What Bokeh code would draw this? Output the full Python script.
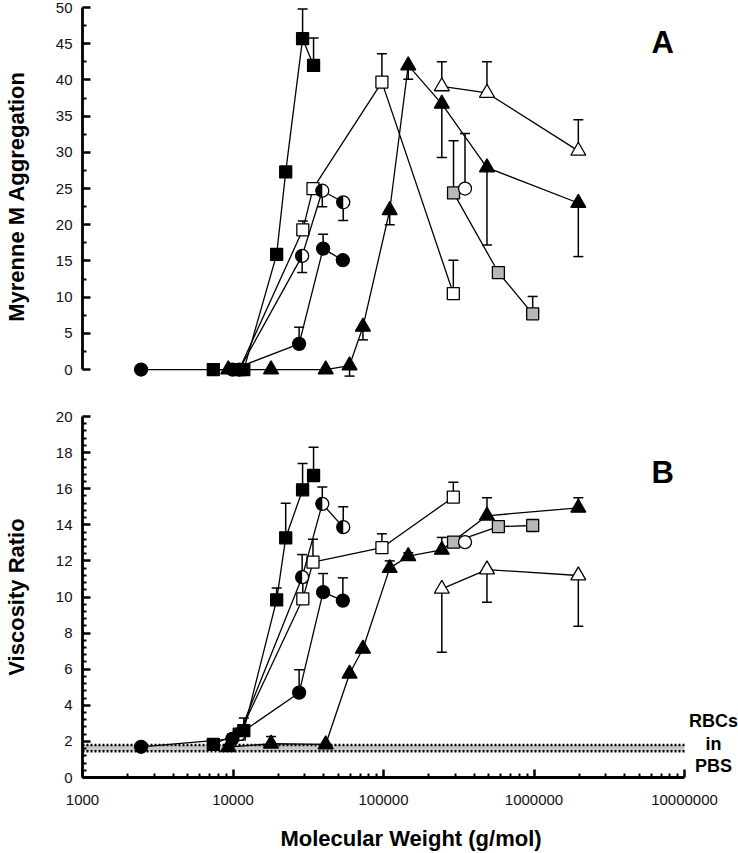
import math
from bokeh.plotting import figure
from bokeh.layouts import column
from bokeh.models import Range1d, FixedTicker, NumeralTickFormatter, Label
from bokeh.embed import file_html
from bokeh.resources import INLINE

nan = float("nan")

# ---------------- data ----------------
mw_decades = [1000, 10000, 100000, 1000000, 10000000]
agg_ticks = [0, 5, 10, 15, 20, 25, 30, 35, 40, 45, 50]
visc_ticks = [0, 2, 4, 6, 8, 10, 12, 14, 16, 18, 20]

# filled squares
fsq_x = [7400, 11800, 19500, 22400, 29000, 34300]
fsq_A = [0, 0, 15.9, 27.3, 45.7, 42.0]
fsq_A_err = [nan, nan, nan, nan, 49.8, 45.8]
fsq_B = [1.83, 2.6, 9.84, 13.28, 15.94, 16.73]
fsq_B_err = [nan, 3.3, 10.5, 15.2, 17.4, 18.3]

# filled circles
fci_x = [2450, 9900, 27500, 39700, 53700]
fci_A = [0, 0, 3.55, 16.7, 15.1]
fci_A_err = [nan, nan, 5.85, 18.7, nan]
fci_B = [1.7, 2.14, 4.7, 10.27, 9.8]
fci_B_err = [nan, 2.42, 5.97, 11.3, 11.06]

# half-filled circles
hci_x = [11000, 28800, 39200, 54000]
hci_A = [0, 15.7, 24.7, 23.1]
hci_A_err = [nan, 13.4, 22.5, 20.6]
hci_B = [2.4, 11.1, 15.16, 13.87]
hci_B_err = [nan, 12.35, 16.1, 15.0]

# open squares
osq_x = [11000, 29100, 34000, 97600, 291000]
osq_A = [0, 19.3, 25.0, 39.7, 10.5]
osq_A_err = [nan, 20.5, 25.7, 43.6, 15.1]
osq_B = [2.4, 9.9, 11.93, 12.73, 15.53]
osq_B_err = [nan, 10.8, 13.2, 13.5, 16.36]

# filled triangles
ftr_x = [9300, 17900, 41300, 59500, 73000, 110000, 146000, 244000, 487000, 1970000]
ftr_A = [0, 0, 0, 0.55, 5.9, 22.0, 42.0, 36.7, 27.9, 23.0]
ftr_A_err = [nan, nan, nan, -0.9, 4.1, 20.0, 40.1, 29.3, 17.2, 15.6]
ftr_B = [1.68, 1.87, 1.83, 5.75, 7.13, 11.6, 12.26, 12.61, 14.5, 14.94]
ftr_B_err = [nan, 2.27, nan, nan, nan, 12.0, 12.45, 13.3, 15.5, 15.5]

# open triangles
otr_x = [244000, 487000, 1970000]
otr_A = [39.1, 38.2, 30.2]
otr_A_err = [42.5, 42.5, 34.5]
otr_B = [10.45, 11.52, 11.19]
otr_B_err = [6.94, 9.71, 8.38]

# grey squares
gsq_x = [292000, 580000, 980000]
gsq_A = [24.4, 13.4, 7.7]
gsq_A_err = [31.6, nan, 10.1]
gsq_B = [13.04, 13.9, 13.96]
gsq_B_err = [13.3, nan, nan]

# single open circle
oci_x = [348000]
oci_A = [25.0]
oci_A_err = [32.6]
oci_B = [13.04]
oci_B_err = [nan]

# RBCs in PBS band
rbc_lo = 1.45
rbc_hi = 1.8

# ---------------- styling helpers ----------------
FONT = "Liberation Sans"
LW = 1.3
TITLE_SIZE = "22px"
TICK_SIZE = "15px"


def style_yaxis(ax, ticks, minors, label):
    ax.ticker = FixedTicker(ticks=ticks, minor_ticks=minors)
    ax.bounds = (ticks[0], ticks[-1])
    ax.axis_label = label
    ax.axis_label_text_font = FONT
    ax.axis_label_text_font_style = "bold"
    ax.axis_label_text_font_size = TITLE_SIZE
    ax.axis_label_text_color = "black"
    ax.axis_label_standoff = 24
    ax.major_label_text_font = FONT
    ax.major_label_text_font_size = TICK_SIZE
    ax.major_label_text_color = "#111111"
    ax.major_label_standoff = 10
    ax.axis_line_width = 2.8
    ax.axis_line_color = "black"
    ax.major_tick_in = 8
    ax.major_tick_out = 0
    ax.minor_tick_in = 4
    ax.minor_tick_out = 0
    ax.major_tick_line_width = 2.5
    ax.minor_tick_line_width = 2
    ax.major_tick_line_color = "black"
    ax.minor_tick_line_color = "black"


def series(p, x, y, err, marker, fill, size):
    ex, ey0, ey1 = [], [], []
    for xi, yi, ei in zip(x, y, err):
        if not math.isnan(ei):
            ex.append(xi)
            ey0.append(yi)
            ey1.append(ei)
    if ex:
        p.segment(x0=ex, y0=ey0, x1=ex, y1=ey1, line_color="black", line_width=1.5)
        p.scatter(ex, ey1, marker="dash", size=10, line_color="black", line_width=1.5)
    p.line(x, y, line_color="black", line_width=LW)
    if marker == "half":
        p.scatter(x, y, marker="circle", size=size, fill_color="white", line_color=None)
        p.wedge(x, y, radius=size / 2.0, radius_units="screen",
                start_angle=math.pi / 2, end_angle=3 * math.pi / 2,
                direction="anticlock", fill_color="black", line_color=None)
        p.scatter(x, y, marker="circle", size=size, fill_color=None,
                  line_color="black", line_width=LW)
    else:
        p.scatter(x, y, marker=marker, size=size, fill_color=fill,
                  line_color="black", line_width=LW)


def draw_all(p, which):
    d = {
        "A": [(osq_x, osq_A, osq_A_err), (hci_x, hci_A, hci_A_err), (fci_x, fci_A, fci_A_err),
              (fsq_x, fsq_A, fsq_A_err), (ftr_x, ftr_A, ftr_A_err), (otr_x, otr_A, otr_A_err),
              (gsq_x, gsq_A, gsq_A_err), (oci_x, oci_A, oci_A_err)],
        "B": [(osq_x, osq_B, osq_B_err), (hci_x, hci_B, hci_B_err), (fci_x, fci_B, fci_B_err),
              (fsq_x, fsq_B, fsq_B_err), (ftr_x, ftr_B, ftr_B_err), (otr_x, otr_B, otr_B_err),
              (gsq_x, gsq_B, gsq_B_err), (oci_x, oci_B, oci_B_err)],
    }[which]
    styles = [("square", "white", 12), ("half", None, 13), ("circle", "black", 13),
              ("square", "black", 12), ("triangle", "black", 15), ("triangle", "white", 15),
              ("square", "#b8b8b8", 12), ("circle", "white", 13)]
    for (x, y, e), (m, f, s) in zip(d, styles):
        series(p, x, y, e, m, f, s)


# frame runs past 1e7 so the "RBCs in PBS" note fits; axis line stops at 1e7
FRAME_W = 657
DECADE_PX = 150.5
x_end = 10 ** (math.log10(mw_decades[-1]) + (FRAME_W - 4 * DECADE_PX) / DECADE_PX)
x_range = Range1d(mw_decades[0], x_end)
x_minor = [m * d for d in mw_decades[:-1] for m in range(2, 10)]

# ---------------- top panel ----------------
p1 = figure(x_axis_type="log", x_range=x_range, y_range=Range1d(-2.2, agg_ticks[-1]),
            frame_width=FRAME_W, frame_height=378, min_border_left=79, min_border_right=0,
            min_border_top=7, min_border_bottom=0, x_axis_location=None,
            title=None, toolbar_location=None, output_backend="svg")
p1.outline_line_color = None
p1.grid.visible = False
style_yaxis(p1.yaxis[0], agg_ticks, [t + 2.5 for t in agg_ticks[:-1]], "Myrenne M Aggregation")
draw_all(p1, "A")
p1.add_layout(Label(x=7.15e6, y=45.1, text="A", text_font=FONT, text_font_style="bold",
                    text_color="black", text_font_size="31px", text_align="center",
                    text_baseline="middle"))

# ---------------- bottom panel ----------------
p2 = figure(x_axis_type="log", x_range=x_range, y_range=Range1d(visc_ticks[0], visc_ticks[-1]),
            frame_width=FRAME_W, frame_height=361, min_border_left=79, min_border_right=0,
            min_border_top=31, min_border_bottom=75,
            title=None, toolbar_location=None, output_backend="svg")
p2.outline_line_color = None
p2.grid.visible = False
visc_minor = [round(t + k * 0.4, 2) for t in visc_ticks[:-1] for k in range(1, 5)]
style_yaxis(p2.yaxis[0], visc_ticks, visc_minor, "Viscosity Ratio")

xa = p2.xaxis[0]
xa.ticker = FixedTicker(ticks=mw_decades, minor_ticks=x_minor)
xa.bounds = (mw_decades[0], mw_decades[-1])
xa.formatter = NumeralTickFormatter(format="0")
xa.axis_label = "Molecular Weight (g/mol)"
xa.axis_label_text_font = FONT
xa.axis_label_text_font_style = "bold"
xa.axis_label_text_font_size = TITLE_SIZE
xa.axis_label_text_color = "black"
xa.axis_label_standoff = 18
xa.major_label_text_font = FONT
xa.major_label_text_font_size = TICK_SIZE
xa.major_label_text_color = "#111111"
xa.major_label_standoff = 17
xa.axis_line_width = 2.8
xa.major_tick_in = 8
xa.major_tick_out = 0
xa.minor_tick_in = 4
xa.minor_tick_out = 0
xa.major_tick_line_width = 2.5
xa.minor_tick_line_width = 2

# band for RBCs in PBS
band_x = [mw_decades[0], mw_decades[-1]]
p2.varea(x=band_x, y1=[rbc_lo, rbc_lo], y2=[rbc_hi, rbc_hi], fill_color="#c8c8c8")
p2.line(band_x, [rbc_lo, rbc_lo], line_color="black", line_width=2.5, line_dash="2 2")
p2.line(band_x, [rbc_hi, rbc_hi], line_color="black", line_width=2.5, line_dash="2 2")

draw_all(p2, "B")
p2.add_layout(Label(x=7.15e6, y=16.9, text="B", text_font=FONT, text_font_style="bold",
                    text_color="black", text_font_size="31px", text_align="center",
                    text_baseline="middle"))
for txt, yy in [("RBCs", 3.15), ("in", 1.88), ("PBS", 0.62)]:
    p2.add_layout(Label(x=1.56e7, y=yy, text=txt, text_font=FONT, text_font_style="bold",
                        text_color="black", text_font_size="18px", text_align="center",
                        text_baseline="middle"))

layout = column(p1, p2)
open("out.html", "w").write(file_html(layout, INLINE))
